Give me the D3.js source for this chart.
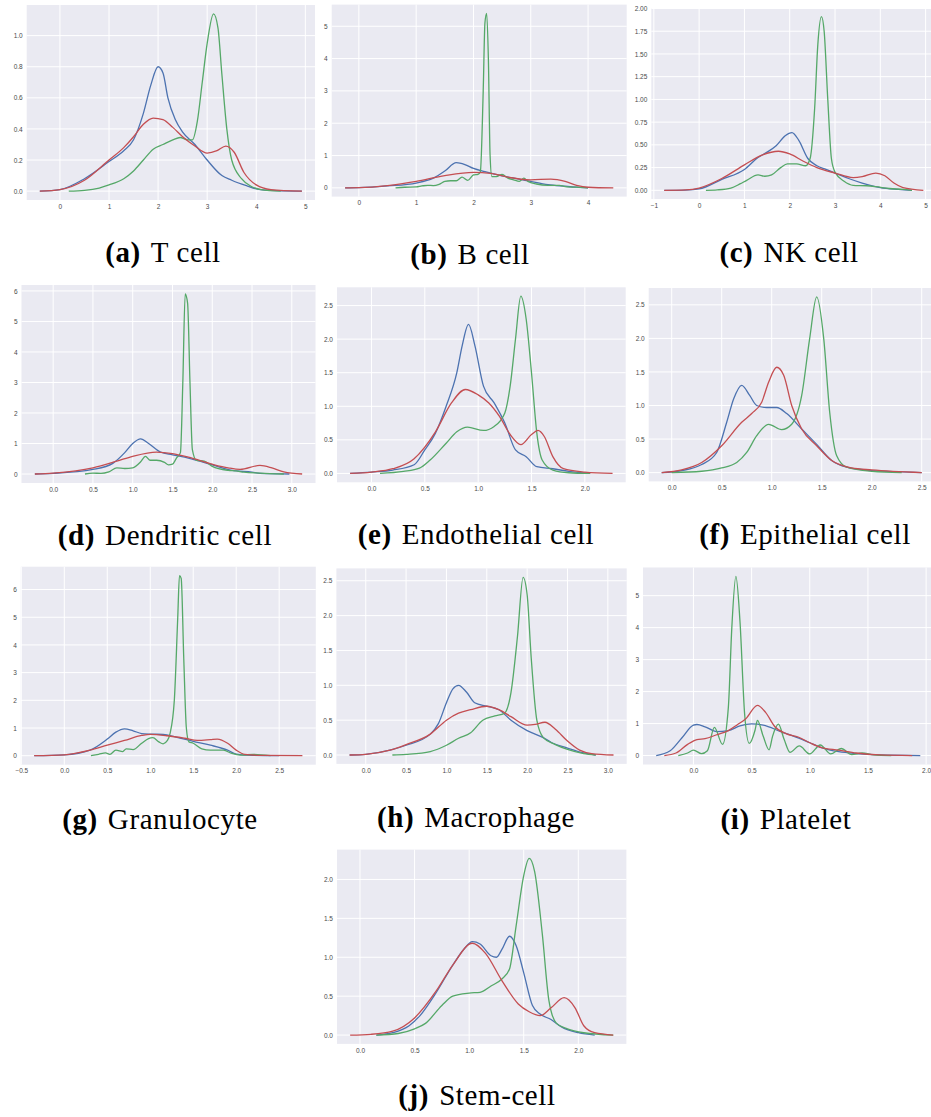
<!DOCTYPE html>
<html>
<head>
<meta charset="utf-8">
<script src="https://d3js.org/d3.v7.min.js"></script>
<style>
  body { margin: 0; background: #fff; }
  .tick text { font-family: "Liberation Sans", Arial, sans-serif; font-size: 6.5px; fill: #4a4a4a; }
  .caption { font-family: "Liberation Serif", "Times New Roman", serif; font-size: 29px; letter-spacing: 0.6px; fill: #000; }
</style>
</head>
<body>
<script>
// captions
const labels = ['(a)', '(b)', '(c)', '(d)', '(e)', '(f)', '(g)', '(h)', '(i)', '(j)'];
const names = ['T cell', 'B cell', 'NK cell', 'Dendritic cell', 'Endothelial cell',
  'Epithelial cell', 'Granulocyte', 'Macrophage', 'Platelet', 'Stem-cell'];

// tick labels per panel
const xTicks = [
  [0, 1, 2, 3, 4, 5], [0, 1, 2, 3, 4], [-1, 0, 1, 2, 3, 4, 5],
  [0, 0.5, 1, 1.5, 2, 2.5, 3], [0, 0.5, 1, 1.5, 2], [0, 0.5, 1, 1.5, 2, 2.5],
  [-0.5, 0, 0.5, 1, 1.5, 2, 2.5], [0, 0.5, 1, 1.5, 2, 2.5, 3], [0, 0.5, 1, 1.5, 2],
  [0, 0.5, 1, 1.5, 2]
];
const yTicks = [
  [0, 0.2, 0.4, 0.6, 0.8, 1.0], [0, 1, 2, 3, 4, 5], [0, 0.25, 0.5, 0.75, 1, 1.25, 1.5, 1.75, 2],
  [0, 1, 2, 3, 4, 5, 6], [0, 0.5, 1, 1.5, 2, 2.5], [0, 0.5, 1, 1.5, 2, 2.5],
  [0, 1, 2, 3, 4, 5, 6], [0, 0.5, 1, 1.5, 2, 2.5], [0, 1, 2, 3, 4, 5],
  [0, 0.5, 1, 1.5, 2]
];
const xFormats = ['d', 'd', 'd', '.1f', '.1f', '.1f', '.1f', '.1f', '.1f', '.1f'];
const yFormats = ['.1f', 'd', '.2f', 'd', '.1f', '.1f', 'd', '.1f', 'd', '.1f'];

// (a) T cell
const tBlue = [[-0.41,0],[0,0.01],[0.5,0.08],[1,0.19],[1.3,0.26],[1.5,0.33],[1.7,0.5],[1.85,0.68],[2,0.8],[2.1,0.76],[2.2,0.6],[2.35,0.46],[2.5,0.38],[2.75,0.3],[3,0.2],[3.3,0.1],[3.5,0.07],[3.8,0.035],[4,0.015],[4.4,0.003],[4.93,0]];
const tGreen = [[0.18,0],[0.5,0.005],[0.8,0.02],[1,0.04],[1.3,0.08],[1.5,0.13],[1.7,0.2],[1.9,0.27],[2.1,0.3],[2.3,0.33],[2.45,0.345],[2.6,0.33],[2.7,0.33],[2.8,0.45],[2.9,0.7],[3,0.95],[3.13,1.14],[3.22,1.05],[3.3,0.75],[3.4,0.4],[3.5,0.2],[3.7,0.08],[3.9,0.03],[4.1,0.01],[4.5,0]];
const tRed = [[-0.41,0],[0,0.01],[0.5,0.07],[1,0.2],[1.3,0.28],[1.5,0.35],[1.7,0.43],[1.9,0.47],[2.1,0.46],[2.3,0.41],[2.5,0.35],[2.75,0.29],[3,0.245],[3.2,0.26],[3.38,0.29],[3.55,0.25],[3.75,0.12],[4,0.04],[4.3,0.01],[4.93,0]];

// (b) B cell
const bBlue = [[-0.24,0],[0,0.005],[0.5,0.06],[1,0.15],[1.3,0.3],[1.5,0.52],[1.7,0.78],[1.85,0.72],[2,0.6],[2.2,0.5],[2.5,0.37],[2.8,0.27],[3,0.2],[3.3,0.1],[3.6,0.05],[3.8,0.02],[4,0]];
const bGreen = [[0.64,0],[0.8,0.02],[1,0.03],[1.1,0.06],[1.2,0.08],[1.3,0.07],[1.4,0.11],[1.5,0.2],[1.6,0.22],[1.7,0.22],[1.8,0.33],[1.9,0.23],[2,0.4],[2.08,0.42],[2.12,0.5],[2.17,3.0],[2.2,5.1],[2.23,5.4],[2.26,4.0],[2.29,1.0],[2.32,0.35],[2.4,0.35],[2.5,0.42],[2.6,0.3],[2.7,0.25],[2.8,0.2],[2.88,0.3],[2.95,0.2],[3.1,0.12],[3.3,0.08],[3.5,0.08],[3.6,0.04],[3.8,0.02],[4,0]];
const bRed = [[-0.24,0],[0,0.005],[0.5,0.07],[1,0.2],[1.5,0.38],[2,0.48],[2.3,0.45],[2.6,0.33],[3,0.25],[3.35,0.27],[3.6,0.2],[3.8,0.08],[4,0.02],[4.44,0]];

// (c) NK cell
const nkBlue = [[-0.77,0],[-0.3,0.003],[0,0.015],[0.5,0.12],[1,0.23],[1.3,0.36],[1.5,0.42],[1.7,0.49],[1.9,0.6],[2.05,0.635],[2.2,0.55],[2.4,0.35],[2.6,0.27],[2.8,0.23],[3,0.19],[3.3,0.13],[3.6,0.08],[4,0.03],[4.4,0.01],[4.7,0]];
const nkGreen = [[0.15,0],[0.4,0.005],[0.7,0.025],[0.9,0.07],[1.05,0.11],[1.3,0.17],[1.45,0.155],[1.6,0.17],[1.8,0.25],[1.95,0.29],[2.15,0.29],[2.35,0.27],[2.45,0.35],[2.55,0.9],[2.62,1.6],[2.7,1.91],[2.76,1.75],[2.84,1.0],[2.92,0.35],[3,0.2],[3.2,0.1],[3.4,0.055],[3.7,0.05],[3.9,0.04],[4.2,0.02],[4.5,0.01],[4.7,0]];
const nkRed = [[-0.77,0],[-0.3,0.005],[0,0.025],[0.5,0.13],[1,0.28],[1.4,0.39],[1.75,0.43],[2,0.4],[2.3,0.32],[2.6,0.25],[3,0.19],[3.4,0.14],[3.6,0.15],[3.9,0.19],[4.1,0.16],[4.3,0.08],[4.5,0.03],[4.95,0]];

// (d) Dendritic cell
const dBlue = [[-0.23,0],[0,0.02],[0.5,0.15],[0.75,0.35],[0.9,0.7],[1,1.0],[1.1,1.15],[1.2,1.0],[1.35,0.72],[1.5,0.63],[1.7,0.52],[2,0.3],[2.25,0.12],[2.5,0.06],[2.6,0.02],[2.97,0]];
const dGreen = [[0.4,0],[0.5,0.03],[0.6,0.02],[0.7,0.07],[0.8,0.2],[0.9,0.18],[1,0.2],[1.1,0.4],[1.16,0.58],[1.22,0.45],[1.3,0.45],[1.4,0.38],[1.45,0.3],[1.5,0.32],[1.55,0.52],[1.6,0.7],[1.63,3.0],[1.66,5.9],[1.69,5.6],[1.72,3.0],[1.75,0.8],[1.8,0.45],[1.9,0.42],[2,0.25],[2.2,0.12],[2.3,0.1],[2.4,0.06],[2.6,0.03],[2.9,0]];
const dRed = [[-0.23,0],[0,0.03],[0.5,0.2],[0.8,0.42],[1,0.58],[1.3,0.72],[1.5,0.67],[1.7,0.55],[2,0.32],[2.2,0.2],[2.35,0.15],[2.6,0.28],[2.75,0.2],[2.9,0.07],[3.13,0]];

// (e) Endothelial cell
const enBlue = [[-0.2,0],[0,0.02],[0.2,0.05],[0.4,0.13],[0.5,0.35],[0.6,0.6],[0.7,1.0],[0.8,1.5],[0.85,1.9],[0.91,2.22],[0.97,1.9],[1.05,1.3],[1.15,1.05],[1.25,0.75],[1.35,0.35],[1.45,0.25],[1.55,0.1],[1.7,0.07],[1.85,0.03],[2.05,0]];
const enGreen = [[0.08,0],[0.3,0.03],[0.45,0.08],[0.55,0.2],[0.7,0.45],[0.8,0.62],[0.9,0.69],[1.05,0.64],[1.15,0.7],[1.25,0.9],[1.3,1.3],[1.35,2.0],[1.4,2.64],[1.45,2.3],[1.5,1.5],[1.55,0.6],[1.6,0.2],[1.7,0.05],[1.85,0.01],[2.05,0]];
const enRed = [[-0.2,0],[0,0.02],[0.2,0.07],[0.4,0.22],[0.6,0.62],[0.75,1.05],[0.88,1.25],[1,1.17],[1.1,1.05],[1.2,0.85],[1.3,0.58],[1.4,0.43],[1.5,0.58],[1.56,0.64],[1.62,0.55],[1.7,0.25],[1.8,0.07],[2,0.02],[2.26,0]];

// (f) Epithelial cell
const epBlue = [[-0.1,0],[0.1,0.03],[0.3,0.12],[0.45,0.3],[0.55,0.75],[0.62,1.1],[0.7,1.3],[0.78,1.15],[0.85,1.0],[0.95,0.97],[1.05,0.97],[1.15,0.88],[1.3,0.65],[1.45,0.42],[1.6,0.18],[1.75,0.08],[2,0.03],[2.3,0.01],[2.5,0]];
const epGreen = [[0,0],[0.3,0.02],[0.5,0.07],[0.65,0.15],[0.75,0.3],[0.85,0.55],[0.97,0.72],[1.1,0.64],[1.2,0.72],[1.3,1.15],[1.38,2.0],[1.45,2.62],[1.52,2.0],[1.58,0.9],[1.65,0.25],[1.75,0.08],[2,0.02],[2.3,0]];
const epRed = [[-0.1,0],[0.1,0.04],[0.3,0.15],[0.5,0.4],[0.7,0.75],[0.8,0.88],[0.9,1.05],[0.97,1.35],[1.05,1.57],[1.12,1.45],[1.2,1.0],[1.3,0.65],[1.45,0.4],[1.6,0.18],[1.8,0.07],[2,0.04],[2.5,0]];

// (g) Granulocyte
const gBlue = [[-0.35,0],[0,0.03],[0.3,0.2],[0.5,0.6],[0.6,0.85],[0.7,0.97],[0.8,0.9],[0.9,0.8],[1,0.78],[1.15,0.77],[1.3,0.67],[1.5,0.52],[1.7,0.38],[1.9,0.2],[2,0.06],[2.2,0.01],[2.5,0]];
const gGreen = [[0.31,0],[0.4,0.05],[0.48,0.1],[0.53,0.05],[0.6,0.2],[0.68,0.15],[0.72,0.25],[0.8,0.22],[0.9,0.45],[0.98,0.62],[1.03,0.65],[1.1,0.5],[1.15,0.43],[1.2,0.55],[1.23,0.8],[1.28,2.0],[1.32,5.0],[1.34,6.5],[1.36,6.4],[1.39,3.5],[1.42,1.0],[1.45,0.5],[1.5,0.45],[1.6,0.25],[1.7,0.2],[1.85,0.2],[1.95,0.08],[2.05,0.02],[2.2,0.05],[2.4,0]];
const gRed = [[-0.35,0],[0,0.03],[0.3,0.2],[0.5,0.38],[0.7,0.55],[0.9,0.73],[1,0.77],[1.2,0.72],[1.4,0.63],[1.55,0.55],[1.7,0.58],[1.78,0.6],[1.9,0.45],[2,0.2],[2.1,0.05],[2.3,0.01],[2.77,0]];

// (h) Macrophage
const mBlue = [[-0.2,0],[0,0.01],[0.3,0.07],[0.5,0.14],[0.8,0.3],[0.9,0.45],[1,0.75],[1.08,0.95],[1.15,1.0],[1.25,0.9],[1.35,0.75],[1.5,0.7],[1.65,0.65],[1.8,0.5],[2,0.35],[2.2,0.25],[2.3,0.18],[2.5,0.1],[2.7,0.03],[2.85,0]];
const mGreen = [[0.33,0],[0.5,0.01],[0.8,0.05],[1,0.14],[1.15,0.24],[1.3,0.32],[1.45,0.5],[1.6,0.56],[1.72,0.6],[1.8,0.9],[1.88,1.7],[1.95,2.55],[2,2.3],[2.05,1.4],[2.12,0.5],[2.2,0.25],[2.35,0.15],[2.5,0.08],[2.7,0.02],[2.85,0]];
const mRed = [[-0.2,0],[0,0.01],[0.3,0.07],[0.5,0.15],[0.8,0.3],[1,0.5],[1.15,0.6],[1.3,0.65],[1.5,0.7],[1.65,0.65],[1.8,0.55],[2,0.43],[2.1,0.44],[2.22,0.47],[2.35,0.37],[2.5,0.2],[2.65,0.07],[2.8,0.02],[3.07,0]];

// (i) Platelet
const pBlue = [[-0.32,0],[-0.2,0.15],[-0.1,0.55],[0,0.95],[0.03,0.97],[0.1,0.9],[0.2,0.75],[0.3,0.78],[0.4,0.93],[0.5,0.99],[0.6,0.95],[0.75,0.75],[0.9,0.55],[1,0.4],[1.1,0.25],[1.25,0.12],[1.4,0.06],[1.6,0.02],[1.95,0]];
const pGreen = [[-0.13,0],[-0.05,0.08],[0,0.17],[0.07,0.06],[0.12,0.15],[0.18,0.88],[0.25,0.35],[0.3,1.5],[0.33,4.0],[0.365,5.6],[0.4,4.2],[0.44,1.3],[0.48,0.38],[0.53,0.8],[0.55,1.1],[0.6,0.6],[0.65,0.18],[0.68,0.6],[0.73,0.98],[0.78,0.5],[0.83,0.1],[0.91,0.3],[1,0.05],[1.09,0.33],[1.18,0.05],[1.27,0.22],[1.36,0.03],[1.45,0.08],[1.55,0.02],[1.7,0]];
const pRed = [[-0.25,0],[-0.15,0.08],[-0.05,0.35],[0.03,0.5],[0.1,0.53],[0.2,0.65],[0.3,0.78],[0.38,0.97],[0.45,1.15],[0.55,1.57],[0.62,1.35],[0.7,0.9],[0.8,0.68],[0.9,0.58],[1,0.4],[1.1,0.25],[1.25,0.17],[1.4,0.08],[1.6,0.02],[1.88,0]];

// (j) Stem-cell
const sBlue = [[0.15,0],[0.3,0.03],[0.45,0.12],[0.55,0.25],[0.7,0.55],[0.85,0.9],[0.95,1.1],[1.03,1.2],[1.1,1.17],[1.2,1.02],[1.25,1.0],[1.3,1.1],[1.37,1.27],[1.43,1.15],[1.5,0.8],[1.58,0.38],[1.65,0.27],[1.75,0.2],[1.85,0.1],[2,0.03],[2.15,0]];
const sGreen = [[0.15,0],[0.35,0.02],[0.5,0.08],[0.6,0.15],[0.75,0.38],[0.85,0.5],[1,0.54],[1.1,0.55],[1.2,0.63],[1.3,0.72],[1.37,0.85],[1.43,1.4],[1.5,2.05],[1.55,2.27],[1.6,2.1],[1.67,1.3],[1.73,0.45],[1.8,0.15],[1.9,0.08],[2.05,0.03],[2.32,0]];
const sRed = [[-0.09,0],[0.1,0.01],[0.3,0.05],[0.5,0.22],[0.7,0.57],[0.85,0.9],[1.03,1.18],[1.15,1.05],[1.3,0.7],[1.45,0.4],[1.55,0.3],[1.65,0.25],[1.75,0.35],[1.87,0.48],[1.97,0.35],[2.05,0.12],[2.15,0.03],[2.32,0]];

const curves = [
  [tBlue, tGreen, tRed], [bBlue, bGreen, bRed], [nkBlue, nkGreen, nkRed],
  [dBlue, dGreen, dRed], [enBlue, enGreen, enRed], [epBlue, epGreen, epRed],
  [gBlue, gGreen, gRed], [mBlue, mGreen, mRed], [pBlue, pGreen, pRed],
  [sBlue, sGreen, sRed]
];
const colors = ['#4c72b0', '#55a868', '#c44e52'];

// layout: plot area [left, top, width, height], caption [centerX, baseline]
const boxes = [
  [26.7, 5, 288.3, 195], [331.7, 4.6, 295, 192], [651.3, 8, 285, 191],
  [21.5, 285, 294, 198], [337, 287.3, 288.7, 195], [648.7, 288, 286, 193.4],
  [20.8, 566.7, 295, 198], [336.4, 568.4, 290.3, 195.5], [643, 567.5, 290.5, 197],
  [337, 849.6, 289.4, 194.3]
];
const capPos = [
  [163, 262], [470, 264], [789, 262],
  [165, 545], [476, 544], [805, 544],
  [160, 829], [476, 827], [786, 829],
  [477, 1105]
];

const svg = d3.select('body').append('svg')
  .attr('width', 931)
  .attr('height', 1117);

curves.forEach((set, i) => {
  const [left, top, w, h] = boxes[i];
  const all = set.flat();
  const xExt = d3.extent(all, d => d[0]);
  const yMax = d3.max(all, d => d[1]);
  const pad = (xExt[1] - xExt[0]) * 0.05;

  const x = d3.scaleLinear().domain([xExt[0] - pad, xExt[1] + pad]).range([0, w]);
  const y = d3.scaleLinear().domain([-yMax * 0.05, yMax * 1.05]).range([h, 0]);

  const g = svg.append('g').attr('transform', `translate(${left},${top})`);

  g.append('rect')
    .attr('width', w)
    .attr('height', h)
    .attr('fill', '#eaeaf2');

  g.selectAll('.vgrid')
    .data(xTicks[i])
    .enter().append('line')
    .attr('x1', d => x(d)).attr('x2', d => x(d))
    .attr('y1', 0).attr('y2', h)
    .attr('stroke', '#fff').attr('stroke-width', 1);

  g.selectAll('.hgrid')
    .data(yTicks[i])
    .enter().append('line')
    .attr('x1', 0).attr('x2', w)
    .attr('y1', d => y(d)).attr('y2', d => y(d))
    .attr('stroke', '#fff').attr('stroke-width', 1);

  g.append('g')
    .attr('transform', `translate(0,${h})`)
    .call(d3.axisBottom(x).tickValues(xTicks[i]).tickSize(0).tickPadding(4)
      .tickFormat(d3.format(xFormats[i])))
    .call(a => a.select('.domain').remove());

  g.append('g')
    .call(d3.axisLeft(y).tickValues(yTicks[i]).tickSize(0).tickPadding(4)
      .tickFormat(d3.format(yFormats[i])))
    .call(a => a.select('.domain').remove());

  const line = d3.line()
    .x(d => x(d[0]))
    .y(d => y(d[1]))
    .curve(d3.curveMonotoneX);

  set.forEach((c, k) => {
    g.append('path')
      .datum(c)
      .attr('d', line)
      .attr('fill', 'none')
      .attr('stroke', colors[k])
      .attr('stroke-width', 1.3);
  });

  const cap = svg.append('text')
    .attr('class', 'caption')
    .attr('x', capPos[i][0])
    .attr('y', capPos[i][1])
    .attr('text-anchor', 'middle');
  cap.append('tspan').attr('font-weight', 'bold').text(labels[i]);
  cap.append('tspan').attr('dx', 10).text(names[i]);
});
</script>
</body>
</html>
